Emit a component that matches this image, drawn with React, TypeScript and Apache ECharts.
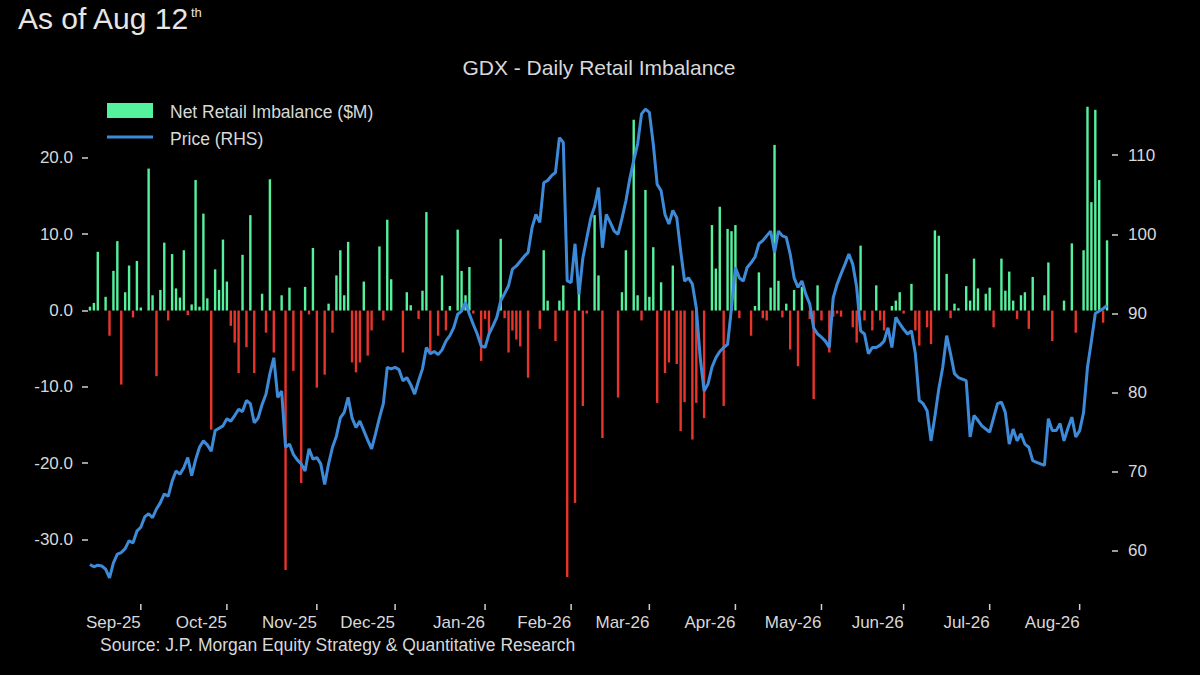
import React, { useEffect, useRef } from 'react';
import * as echarts from 'echarts';

const START_DATE = '2025-08-13';
const END_DATE = '2026-08-12';
const MONTH_ABBR = ['Jan', 'Feb', 'Mar', 'Apr', 'May', 'Jun', 'Jul', 'Aug', 'Sep', 'Oct', 'Nov', 'Dec'];
const monthTickLabels = ['Sep-25', 'Oct-25', 'Nov-25', 'Dec-25', 'Jan-26', 'Feb-26', 'Mar-26', 'Apr-26', 'May-26', 'Jun-26', 'Jul-26', 'Aug-26'];
const leftTicks = [-30, -20, -10, 0, 10, 20];
const rightTicks = [60, 70, 80, 90, 100, 110];
const LEFT_MIN = -38.45;
const LEFT_MAX = 26.8;
const RIGHT_MIN = 53.3;
const RIGHT_MAX = 116.2;

const titleText = 'GDX - Daily Retail Imbalance';
const asOfText = 'As of Aug 12';
const asOfSup = 'th';
const sourceText = 'Source: J.P. Morgan Equity Strategy & Quantitative Research';
const legendBar = 'Net Retail Imbalance ($M)';
const legendLine = 'Price (RHS)';

// Net retail imbalance ($M), one value per weekday
const imbalance = [
  0.5, 1.0, 7.7, 0, 1.8, -3.3, 5.2, 9.1, -9.7, 2.4,
  5.9, -0.9, 6.5, 0.4, 0, 18.6, 2.0, -8.6, 2.7, 8.9,
  -1.3, 7.4, 2.9, 1.7, 7.9, -0.6, 0.8, 17.1, 0.5, 12.7,
  1.6, -15.6, 5.4, 2.7, 9.3, 3.8, -2.0, -4.2, -8.2, 7.3,
  -4.8, 12.5, -8.2, 0, 2.2, -2.9, 17.2, -5.5, 0, 2.0,
  -34.0, 3.0, -7.9, 0, -22.6, 3.1, -0.5, 8.2, -10.1, 0,
  -8.4, 0.9, -2.9, 4.6, 7.9, 2.0, 9.0, -6.8, -8.1, -6.8,
  3.8, -5.9, -2.6, 0, 8.4, -1.3, 11.9, 4.1, 0, 0,
  -5.5, 2.4, 0.7, 0, -1.1, 2.6, 12.9, -5.5, 0, -3.3,
  4.6, -2.6, 0.6, 0, 10.6, 5.2, 2.0, 5.7, -0.4, 0,
  -6.6, -1.1, -2.9, 0, 0, 9.4, -1.0, -5.5, -2.6, -3.8,
  -4.7, 0, -8.8, 0, 0, -2.4, 7.9, 1.3, 0, -4.0,
  1.3, 3.3, -34.9, 0, -25.2, 2.4, -12.5, -0.4, 0, 12.5,
  4.6, -16.7, 0, 0, 0, -11.4, 2.4, 7.9, 0, 25.0,
  2.0, -1.3, 15.8, 1.8, 8.3, -12.1, 3.7, -8.2, -6.8, 5.9,
  -7.0, -15.8, -12.0, 0, -16.9, -12.1, 0, -14.1, 0, 11.2,
  5.5, 13.6, -12.5, 10.7, 10.4, 11.2, -1.0, 0, 0, -3.3,
  0.6, 5.0, -1.0, -1.3, 3.0, 21.7, 3.9, -0.9, 0.9, -5.1,
  2.7, -7.3, 3.1, 0, -1.1, -11.6, 3.3, -1.3, 0, -5.5,
  -0.8, -0.4, -0.8, 0, 0, -2.2, -4.2, 8.5, -1.3, 0,
  -2.6, 3.3, -1.3, -2.6, 0, 0.6, 1.3, 2.4, -0.4, 0,
  3.5, -2.6, -4.6, 0, -2.2, -4.4, 10.5, 9.8, 0, 4.8,
  -1.0, 0.9, 0.3, 0, 3.2, 1.3, 6.8, 2.9, 0, 2.2,
  3.0, -2.2, 0, 6.8, 2.6, 5.1, 1.3, -1.1, 2.0, 2.4,
  -2.4, 4.4, 0, 0, 2.0, 6.3, -4.0, 0, 0, 1.3,
  0, 8.8, -2.9, 0, 7.9, 26.7, 14.2, 26.3, 17.1, -1.6,
  9.2,
];

// GDX price (RHS), one value per weekday
const price = [
  58.3, 58.0, 58.2, 58.1, 57.7, 56.6, 58.5, 59.6, 59.8, 60.3,
  61.3, 61.0, 62.5, 63.0, 64.3, 64.7, 64.2, 65.3, 66.1, 67.2,
  66.9, 68.8, 70.1, 69.7, 70.5, 71.8, 69.5, 71.5, 73.1, 73.9,
  73.4, 72.6, 75.2, 75.5, 75.8, 76.7, 76.4, 77.1, 77.9, 77.6,
  79.0, 78.6, 76.2, 76.8, 78.5, 79.8, 82.4, 84.4, 79.4, 80.2,
  73.1, 73.5, 72.2, 71.5, 71.0, 70.1, 72.9, 71.6, 71.8, 71.0,
  68.4, 71.0, 73.1, 74.5, 76.8, 77.5, 79.4, 76.8, 75.6, 76.4,
  75.2, 74.0, 72.9, 74.8, 76.8, 78.6, 83.2, 83.0, 83.2, 82.9,
  81.5, 81.9, 81.0, 79.8, 81.5, 83.0, 85.7, 84.9, 85.2, 84.8,
  85.4, 86.5, 87.2, 88.2, 89.9, 90.3, 91.4, 89.9, 88.6, 87.4,
  85.9, 85.7, 87.4, 88.4, 89.5, 91.6, 92.5, 93.5, 95.6, 96.0,
  96.6, 97.2, 97.7, 100.8, 102.5, 101.5, 106.5, 106.8, 107.4, 107.8,
  112.2, 111.6, 94.1, 93.9, 98.8, 92.4, 97.0, 99.5, 102.0, 103.5,
  105.9, 98.3, 102.5, 101.5, 100.4, 100.0, 102.0, 104.2, 107.0, 109.3,
  111.4, 115.2, 115.8, 115.4, 111.4, 106.3, 105.5, 102.5, 101.3, 103.0,
  102.1, 97.9, 94.1, 94.5, 93.7, 90.7, 84.4, 80.2, 81.1, 83.2,
  84.4, 85.2, 85.7, 86.1, 90.7, 95.8, 94.5, 94.1, 95.8, 96.4,
  97.1, 98.8, 99.2, 99.8, 100.4, 97.7, 100.4, 99.8, 99.6, 97.5,
  94.5, 93.3, 94.1, 92.4, 91.2, 88.2, 87.4, 87.0, 86.5, 85.7,
  92.0, 93.7, 95.0, 96.2, 97.5, 96.2, 93.3, 87.8, 87.4, 84.9,
  85.7, 85.7, 86.0, 86.5, 88.2, 85.7, 89.5, 88.7, 88.0, 87.4,
  87.8, 84.9, 79.0, 78.6, 77.7, 73.9, 77.0, 80.5, 83.2, 87.2,
  84.9, 82.4, 81.9, 81.7, 81.5, 74.4, 77.1, 76.5, 75.8, 75.4,
  75.0, 76.8, 78.6, 78.8, 77.5, 73.5, 75.4, 73.9, 74.8, 73.5,
  73.1, 71.4, 71.2, 71.0, 70.8, 76.7, 75.2, 75.2, 76.1, 73.9,
  75.5, 76.9, 74.4, 75.2, 77.5, 83.2, 86.5, 90.0, 90.3, 90.6,
  91.0,
];

const GREEN = '#55f29e';
const RED = '#e8352c';
const BLUE = '#3d8bd8';
const TEXT = '#d8d8d8';
const TICK = '#d0d0d0';
const FONT = '"Liberation Sans", Arial, sans-serif';

function buildWeekdays(start: string, end: string): string[] {
  const out: string[] = [];
  const d = new Date(start + 'T00:00:00Z');
  const e = new Date(end + 'T00:00:00Z');
  while (d.getTime() <= e.getTime()) {
    const wd = d.getUTCDay();
    if (wd !== 0 && wd !== 6) out.push(d.toISOString().slice(0, 10));
    d.setUTCDate(d.getUTCDate() + 1);
  }
  return out;
}

function monthLabel(s: string): string {
  const y = s.slice(2, 4);
  const m = parseInt(s.slice(5, 7), 10) - 1;
  return MONTH_ABBR[m] + '-' + y;
}

export default function App() {
  const ref = useRef<HTMLDivElement | null>(null);

  useEffect(() => {
    document.body.style.margin = '0';
    document.body.style.background = '#000';
    if (!ref.current) return;
    const chart = echarts.init(ref.current, undefined, { renderer: 'svg' });

    const days = buildWeekdays(START_DATE, END_DATE);
    const tickSet = new Set<number>();
    for (let i = 1; i < days.length; i++) {
      if (days[i].slice(0, 7) !== days[i - 1].slice(0, 7) && monthTickLabels.indexOf(monthLabel(days[i])) >= 0) {
        tickSet.add(i);
      }
    }
    const tickData = Array.from(tickSet).map((i) => [i, LEFT_MIN]);

    const option: any = {
      animation: false,
      backgroundColor: '#000',
      grid: { left: 88, right: 91, top: 106, bottom: 71, containLabel: false },
      xAxis: {
        type: 'category',
        data: days,
        boundaryGap: true,
        axisLine: { show: false, onZero: false },
        splitLine: { show: false },
        axisTick: { show: false },
        axisLabel: {
          interval: (i: number) => tickSet.has(i),
          formatter: (v: string) => monthLabel(v),
          align: 'right',
          margin: 10,
          color: TEXT,
          fontSize: 17,
          fontFamily: FONT,
        },
      },
      yAxis: [
        {
          type: 'value',
          min: LEFT_MIN,
          max: LEFT_MAX,
          position: 'left',
          axisLine: { show: false },
          splitLine: { show: false },
          axisTick: { show: true, customValues: leftTicks, length: 6, lineStyle: { color: TICK, width: 1.5 } },
          axisLabel: {
            customValues: leftTicks,
            formatter: (v: number) => v.toFixed(1),
            margin: 15,
            color: TEXT,
            fontSize: 17,
            fontFamily: FONT,
          },
        },
        {
          type: 'value',
          min: RIGHT_MIN,
          max: RIGHT_MAX,
          position: 'right',
          offset: 3,
          axisLine: { show: false },
          splitLine: { show: false },
          axisTick: { show: true, customValues: rightTicks, length: 6, lineStyle: { color: TICK, width: 1.5 } },
          axisLabel: {
            customValues: rightTicks,
            formatter: (v: number) => String(v),
            margin: 16,
            color: TEXT,
            fontSize: 17,
            fontFamily: FONT,
          },
        },
      ],
      series: [
        {
          name: legendBar,
          type: 'bar',
          yAxisIndex: 0,
          data: imbalance,
          barWidth: 2.4,
          itemStyle: { color: (p: any) => (p.value >= 0 ? GREEN : RED) },
          z: 2,
        },
        {
          name: legendLine,
          type: 'line',
          yAxisIndex: 1,
          data: price,
          symbol: 'none',
          showSymbol: false,
          lineStyle: { color: BLUE, width: 3 },
          itemStyle: { color: BLUE },
          z: 3,
        },
        {
          name: 'monthTicks',
          type: 'custom',
          xAxisIndex: 0,
          yAxisIndex: 0,
          data: tickData,
          clip: false,
          silent: true,
          z: 1,
          renderItem: (params: any, api: any) => {
            const p = api.coord([api.value(0), api.value(1)]);
            return {
              type: 'line',
              shape: { x1: p[0], y1: p[1], x2: p[0], y2: p[1] + 6 },
              style: { stroke: TICK, lineWidth: 1.5 },
            };
          },
        },
      ],
      graphic: [
        {
          type: 'text',
          left: 18,
          top: 3,
          style: { text: asOfText, fill: '#e6e6e6', fontSize: 30, fontFamily: FONT },
        },
        {
          type: 'text',
          left: 191,
          top: 6,
          style: { text: asOfSup, fill: '#e6e6e6', fontSize: 13, fontFamily: FONT },
        },
        {
          type: 'text',
          x: 599,
          y: 67,
          style: { text: titleText, fill: TEXT, fontSize: 21, fontFamily: FONT, align: 'center', verticalAlign: 'middle' },
        },
        {
          type: 'rect',
          shape: { x: 107, y: 103, width: 46, height: 15 },
          style: { fill: GREEN },
        },
        {
          type: 'line',
          shape: { x1: 107, y1: 137, x2: 153, y2: 137 },
          style: { stroke: BLUE, lineWidth: 3 },
        },
        {
          type: 'text',
          x: 170,
          y: 112,
          style: { text: legendBar, fill: TEXT, fontSize: 17.5, fontFamily: FONT, verticalAlign: 'middle' },
        },
        {
          type: 'text',
          x: 170,
          y: 139,
          style: { text: legendLine, fill: TEXT, fontSize: 17.5, fontFamily: FONT, verticalAlign: 'middle' },
        },
        {
          type: 'text',
          x: 100,
          y: 645,
          style: { text: sourceText, fill: TEXT, fontSize: 17.5, fontFamily: FONT, verticalAlign: 'middle' },
        },
      ],
    };

    chart.setOption(option);
    return () => {
      chart.dispose();
    };
  }, []);

  return (
    <div
      ref={ref}
      style={{ position: 'fixed', left: 0, top: 0, width: 1200, height: 675, background: '#000' }}
    />
  );
}
